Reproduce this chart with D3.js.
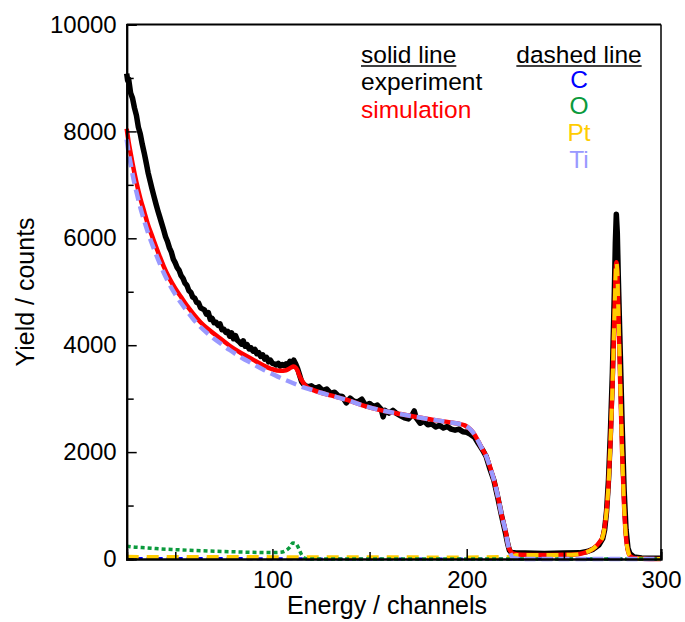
<!DOCTYPE html>
<html>
<head>
<meta charset="utf-8">
<script src="https://cdn.jsdelivr.net/npm/d3@7"></script>
<style>
  html, body { margin: 0; padding: 0; background: #fff; }
  svg { display: block; font-family: "Liberation Sans", Arial, sans-serif; }
</style>
</head>
<body>
<svg id="chart" width="685" height="622"></svg>
<script>
// ---------------- DATA ----------------
const xTickLabels = [100, 200, 300];
const xMinorTicks = [50, 150, 250];
const yTickLabels = [0, 2000, 4000, 6000, 8000, 10000];
const yMinorTicks = [1000, 3000, 5000, 7000, 9000];

// experiment (black solid)
const expX = [25,25.5,26,27,28,29,30,31,32,33,34,35,36,37,38,39,40,41,42,43,44,45,46,47,48,49,50,51,52,53,54,55,56,57,58,
  59,60,61,62,63,64,65,66,67,68,69,70,71,72,73,74,75,76,77,78,79,80,81,82,83,84,85,86,87,88,89,90,91,92,93,94,95,96,97,98,99,
  100,101,102,103,104,105,106,107,108,109,110,111,112,113,114,115,116,118,
  120,122,124,126,128,130,132,134,136,138,140,142,144,146,148,150,152,154,156,157,158,160,162,164,166,168,170,172,173,174,
  176,178,180,182,184,186,188,190,192,194,196,198,200,202,204,206,208,210,212,214,216,218,220,221,222,223,225,230,240,250,
  258,262,265,268,270,271,272,273,274,275,276,276.5,277,277.5,278,279,280,281,282,283,284,286,290,300];
const expY = [9080,8950,8980,8720,8620,8440,8300,8080,7950,7760,7600,7420,7230,7080,6930,6790,6650,6520,6400,6280,6160,6030,5940,5820,5740,5610,5540,5450,5400,5300,5250,5160,5120,5020,4990,
  4900,4880,4800,4790,4700,4680,4660,4580,4610,4480,4500,4420,4430,4370,4400,4290,4300,4240,4260,4170,4230,4120,4180,4090,4060,4020,4080,3980,4010,3930,3950,3890,3920,3840,3860,3790,3820,3740,3770,3690,3720,
  3660,3650,3630,3660,3610,3640,3620,3650,3610,3700,3660,3720,3650,3560,3440,3320,3270,3220,
  3240,3190,3220,3150,3180,3100,3120,3050,3040,2920,3010,2950,2940,2990,2870,2910,2850,2880,2800,2660,2780,2730,2780,2720,2680,2640,2620,2700,2770,2640,
  2540,2580,2510,2530,2470,2500,2450,2480,2430,2410,2430,2380,2370,2330,2280,2160,2050,1920,1680,1470,1150,800,480,300,160,120,115,110,105,110,
  115,140,180,260,380,550,900,1500,2400,3500,5000,5900,6450,6100,5300,3900,2500,1300,550,200,100,40,20,15];

// simulation (red solid)
const simX = [25,26,27,28,30,32,34,36,38,40,42,44,47,50,53,56,59,63,68,73,78,84,90,95,100,104,107,109,111,112,113,114,116,118,
  121,125,130,138,146,155,163,172,180,190,196,199,202,204,206,208,210,212,214,216,218,220,221,222,224,228,240,250,256,260,263,
  266,268,270,271,272,273,274,275,276,277,277.5,278,279,280,281,282,283,284,286,290,300];
const simY = [8050,7800,7600,7400,7050,6750,6500,6250,6050,5850,5660,5480,5250,5060,4900,4740,4600,4430,4270,4130,3990,3850,3730,3630,3550,3520,3530,3570,3600,3580,3520,3420,3290,3210,
  3160,3110,3060,2980,2880,2790,2730,2670,2620,2565,2530,2500,2420,2330,2200,2060,1930,1720,1480,1180,820,520,320,180,100,80,75,78,85,110,150,
  220,300,420,600,900,1400,2200,3200,4500,5550,5400,4700,3300,2000,1000,400,150,60,20,5,0];

// C (blue dashed)
const cX = [25, 60, 110, 120, 300];
const cY = [10, 8, 6, 0, 0];

// O (green dashed)
const oX = [25,30,35,40,50,60,70,80,90,100,104,107,109,110.5,112,113.5,115,117,120,300];
const oY = [240,220,210,195,175,160,145,135,125,120,125,160,220,300,290,200,80,10,0,0];

// Pt (gold dashed)
const ptX = [25,100,200,222,226,240,250,256,260,263,266,268,270,271,272,273,274,275,276,277,277.5,278,279,280,281,282,283,284,286,290,300];
const ptY = [40,35,30,40,75,75,78,85,110,150,220,300,420,600,900,1400,2200,3200,4500,5550,5400,4700,3300,2000,1000,400,150,60,20,5,0];

// Ti (lavender dashed)
const tiX = [25,26,27,28,30,32,34,36,38,40,42,44,47,50,53,56,59,63,68,73,78,84,90,95,100,104,108,112,116,121,125,130,138,146,155,163,172,180,190,196,199,
  202,204,206,208,210,212,214,216,218,220,221,222,224,228,300];
const tiY = [7850,7600,7400,7200,6870,6580,6330,6100,5900,5710,5530,5360,5140,4950,4790,4640,4500,4340,4180,4040,3910,3770,3650,3550,3460,3390,3330,3270,3210,3160,3110,3060,2980,2880,2790,2730,2670,2620,2565,2530,2500,
  2420,2330,2200,2060,1930,1720,1480,1180,820,520,320,160,20,0,0];

const legendSolid = ["solid line", "experiment", "simulation"];
const legendDashed = ["dashed line", "C", "O", "Pt", "Ti"];

// ---------------- CHART ----------------
const svg = d3.select("#chart");
const L = 126.7, R = 661, T = 24.5, B = 559;
const x = d3.scaleLinear().domain([25, 300]).range([L, R]);
const y = d3.scaleLinear().domain([0, 10000]).range([B, T]);

const zip = (xs, ys) => xs.map((v, i) => [v, ys[i]]);
const line = d3.line().x(d => x(d[0])).y(d => y(d[1]));
const smooth = d3.line().x(d => x(d[0])).y(d => y(d[1])).curve(d3.curveMonotoneX);

const plot = svg.append("g");
function draw(data, color, width, dash, gen) {
  plot.append("path").datum(data)
    .attr("d", gen || line)
    .attr("fill", "none").attr("stroke", color).attr("stroke-width", width)
    .attr("stroke-linejoin", "round")
    .attr("stroke-dasharray", dash || null);
}
draw(zip(expX, expY), "#000", 5.5, null, line);
draw(zip(simX, simY), "#ff0000", 4.5, null, smooth);
draw(zip(cX, cY), "#0000ff", 3, "6,4", line);
draw(zip(ptX, ptY), "#ffcc00", 4, "12,8", smooth);
draw(zip(oX, oY), "#0a9a3c", 3.5, "4,3", smooth);
draw(zip(tiX, tiY), "#9999ff", 4.5, "11,6", smooth);

// frame
svg.append("line").attr("x1", L).attr("x2", R).attr("y1", T).attr("y2", T).attr("stroke", "#000").attr("stroke-width", 2);
svg.append("line").attr("x1", R).attr("x2", R).attr("y1", T).attr("y2", B).attr("stroke", "#000").attr("stroke-width", 1.5);

// axes
const fs = 24;
const xAxis = svg.append("g").attr("transform", `translate(0,${B})`)
  .call(d3.axisBottom(x).tickValues(xTickLabels).tickSize(-10).tickPadding(12).tickFormat(d3.format("d")));
const xMinor = svg.append("g").attr("transform", `translate(0,${B})`)
  .call(d3.axisBottom(x).tickValues(xMinorTicks).tickSize(-7).tickFormat(""));
const yAxis = svg.append("g").attr("transform", `translate(${L},0)`)
  .call(d3.axisLeft(y).tickValues(yTickLabels).tickSize(-10).tickPadding(10).tickFormat(d3.format("d")));
const yMinor = svg.append("g").attr("transform", `translate(${L},0)`)
  .call(d3.axisLeft(y).tickValues(yMinorTicks).tickSize(-7).tickFormat(""));
[xAxis, xMinor, yAxis, yMinor].forEach(g => {
  g.select(".domain").attr("stroke", "#000").attr("stroke-width", 2);
  g.selectAll(".tick line").attr("stroke", "#000").attr("stroke-width", 1.5);
  g.selectAll("text").attr("font-size", fs).attr("fill", "#000")
    .attr("font-family", "'Liberation Sans', Arial, sans-serif");
});

// axis titles
svg.append("text").attr("x", 387).attr("y", 614).attr("text-anchor", "middle")
  .attr("font-size", 25).text("Energy / channels");
svg.append("text").attr("transform", `translate(34,292) rotate(-90)`).attr("text-anchor", "middle")
  .attr("font-size", 25).text("Yield / counts");

// legend
const lg = svg.append("g").attr("font-size", 24.5);
const solidColors = ["#000", "#000", "#ff0000"];
const solidY = [63, 90, 118];
legendSolid.forEach((t, i) => {
  lg.append("text").attr("x", 361).attr("y", solidY[i]).attr("fill", solidColors[i]).text(t);
});
const dashColors = ["#000", "#0000ff", "#0a9a3c", "#ffcc00", "#9999ff"];
const dashY = [63, 88, 114, 141, 168];
legendDashed.forEach((t, i) => {
  lg.append("text").attr("x", 579).attr("y", dashY[i]).attr("text-anchor", "middle").attr("fill", dashColors[i]).text(t);
});
// underlines
lg.selectAll("text").filter((d, i, n) => i === 0 || i === 3).each(function() {
  const b = this.getBBox();
  lg.append("line").attr("x1", b.x).attr("x2", b.x + b.width).attr("y1", 66).attr("y2", 66)
    .attr("stroke", "#000").attr("stroke-width", 1.6);
});
</script>
</body>
</html>
